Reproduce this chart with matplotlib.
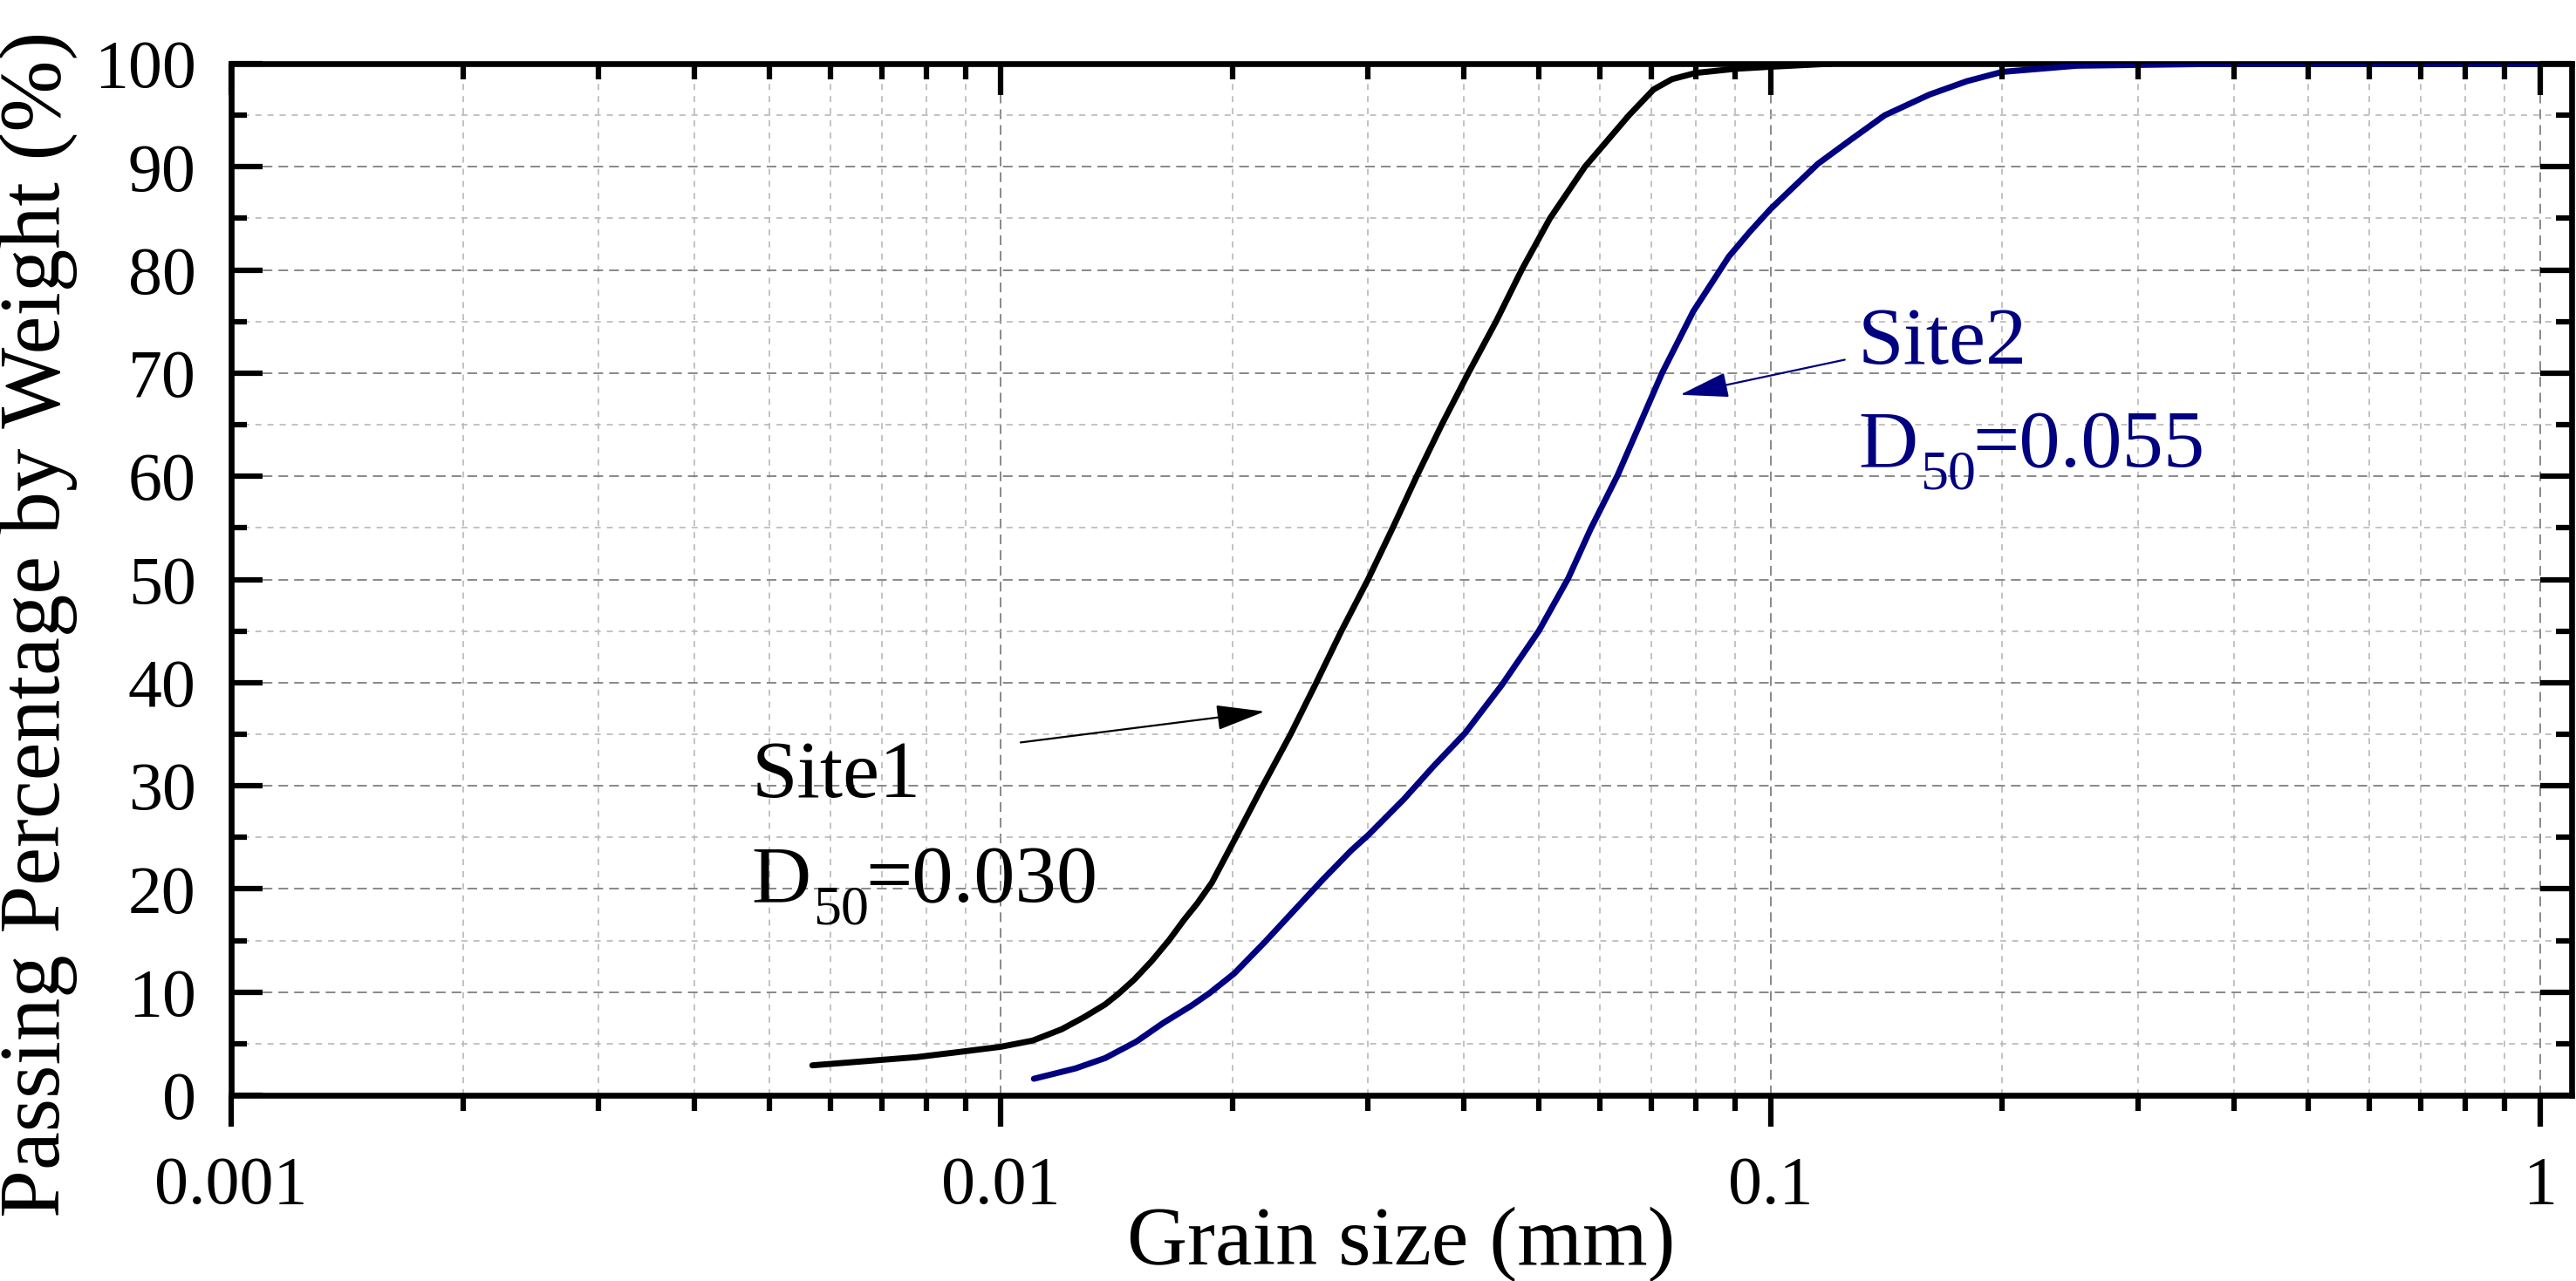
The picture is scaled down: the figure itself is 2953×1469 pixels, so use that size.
import matplotlib

matplotlib.use("Agg")

import matplotlib.pyplot as plt
from matplotlib.ticker import FuncFormatter, LogLocator, MultipleLocator, NullFormatter
from matplotlib.transforms import offset_copy
import numpy as np

# grain size distribution curves
site1_size = [0.00569, 0.00778, 0.00884, 0.0100, 0.0110, 0.0120, 0.01285, 0.01366,
              0.0142, 0.0149, 0.0157, 0.01653, 0.0173, 0.0180, 0.0188, 0.0202,
              0.0219, 0.0238, 0.0257, 0.0277, 0.0300, 0.0323, 0.0347, 0.0374,
              0.0405, 0.0440, 0.0475, 0.0517, 0.0574, 0.0655, 0.0705, 0.0745,
              0.0800, 0.0900, 0.100, 0.120]
site1_pass = [2.9, 3.7, 4.2, 4.7, 5.3, 6.4, 7.6, 8.8,
              9.8, 11.2, 13.0, 15.0, 17.0, 18.6, 20.6, 25.0,
              30.0, 35.0, 40.0, 45.0, 50.0, 55.0, 60.0, 65.0,
              70.0, 75.0, 80.0, 85.0, 90.0, 95.0, 97.5, 98.5,
              99.1, 99.5, 99.7, 100.0]

site2_size = [0.01104, 0.01250, 0.01366, 0.0150, 0.01625, 0.0177, 0.01867, 0.0201,
              0.0220, 0.02404, 0.0262, 0.0285, 0.0300, 0.0334, 0.0365, 0.0401,
              0.0448, 0.0500, 0.0546, 0.0584, 0.0633, 0.0677, 0.0723, 0.0794,
              0.0883, 0.0940, 0.100, 0.107, 0.1153, 0.127, 0.1408, 0.1609,
              0.180, 0.200, 0.250, 0.400, 1.0]
site2_pass = [1.6, 2.6, 3.6, 5.2, 7.0, 8.7, 9.9, 11.8,
              14.8, 17.9, 20.9, 23.7, 25.2, 28.7, 31.9, 35.1,
              39.8, 45.0, 50.1, 54.9, 60.1, 65.1, 70.0, 76.0,
              81.3, 83.7, 85.9, 88.0, 90.3, 92.6, 95.0, 97.0,
              98.3, 99.2, 99.8, 100.0, 100.0]

# annotation anchors: (text x, "SiteN" baseline, "D50" baseline, name, D50 value)
site1_label = (0.00474, 28.9, 18.7, "Site1", "0.030")
site1_arrow = ((0.01061, 34.2), (0.02203, 37.2))
site2_label = (0.130, 70.9, 60.9, "Site2", "0.055")
site2_arrow = ((0.1249, 71.3), (0.0763, 67.9))

NAVY = "#000080"

plt.rcParams["font.family"] = ["Liberation Serif", "DejaVu Serif"]
plt.rcParams["lines.scale_dashes"] = False

W, H = 2953, 1469
fig = plt.figure(figsize=(W / 100, H / 100), dpi=100)
ax = fig.add_axes([265 / W, 1 - 1256 / H, 2683 / W, 1183 / H])

ax.plot(site1_size, site1_pass, color="black", lw=5.0, solid_capstyle="round",
        solid_joinstyle="round", zorder=3)
ax.plot(site2_size, site2_pass, color=NAVY, lw=5.0, solid_capstyle="round",
        solid_joinstyle="round", zorder=3)

ax.set_xscale("log")
ax.set_xlim(0.001, 1.099)
ax.set_ylim(0, 100)

ax.xaxis.set_major_locator(LogLocator(base=10, numticks=10))
ax.xaxis.set_minor_locator(LogLocator(base=10, subs=np.arange(2, 10), numticks=30))
ax.xaxis.set_major_formatter(FuncFormatter(lambda v, p: f"{v:g}"))
ax.xaxis.set_minor_formatter(NullFormatter())
ax.yaxis.set_major_locator(MultipleLocator(10))
ax.yaxis.set_minor_locator(MultipleLocator(5))

ax.grid(which="major", color="#7f7f7f", ls=(0, (8, 5)), lw=1.3)
ax.grid(which="minor", color="#b8b8b8", ls=(0, (5, 5)), lw=1.2)

for sp in ax.spines.values():
    sp.set_linewidth(4.8)

tick_font = 56
ax.tick_params(axis="x", which="major", direction="out", length=26, width=4.5,
               pad=24, labelsize=tick_font)
ax.tick_params(axis="x", which="minor", direction="out", length=13, width=4.5)
ax.tick_params(axis="y", which="major", direction="in", length=26, width=4.5,
               pad=29, labelsize=tick_font, right=True)
ax.tick_params(axis="y", which="minor", direction="in", length=13, width=4.5, right=True)

# top axis: inward ticks, no labels
ax_top = ax.twiny()
ax_top.set_xscale("log")
ax_top.set_xlim(ax.get_xlim())
ax_top.xaxis.set_major_locator(LogLocator(base=10, numticks=10))
ax_top.xaxis.set_minor_locator(LogLocator(base=10, subs=np.arange(2, 10), numticks=30))
ax_top.xaxis.set_major_formatter(NullFormatter())
ax_top.xaxis.set_minor_formatter(NullFormatter())
ax_top.tick_params(axis="x", which="major", direction="in", length=26, width=4.5)
ax_top.tick_params(axis="x", which="minor", direction="in", length=13, width=4.5)
for sp in ax_top.spines.values():
    sp.set_visible(False)

fig.text(1606 / W, 1 - 1450 / H, "Grain size (mm)", fontsize=69,
         ha="center", va="baseline")
fig.text(44 / W, 1 - 716 / H, "Passing Percentage by Weight (%)", fontsize=71,
         rotation=90, ha="center", va="center")


def _label(spec, arrow, color):
    x, y1, y2, name, d50 = spec
    kw = dict(color=color, ha="left", va="baseline", zorder=4)
    ax.text(x, y1, name, fontsize=68, **kw)
    # D, lowered "50" subscript, then "=value"
    ax.text(x, y2, "D", fontsize=68, **kw)
    ax.text(x, y2, "50", fontsize=46,
            transform=offset_copy(ax.transData, fig=fig, x=71, y=-25, units="dots"), **kw)
    ax.text(x, y2, "=" + d50, fontsize=68,
            transform=offset_copy(ax.transData, fig=fig, x=131, y=0, units="dots"), **kw)
    tail, tip = arrow
    ax.annotate("", xy=tip, xytext=tail,
                arrowprops=dict(arrowstyle="-|>,head_length=0.7,head_width=0.18",
                                color=color, lw=1.6, shrinkA=0, shrinkB=0,
                                mutation_scale=50),
                zorder=4)


_label(site1_label, site1_arrow, "black")
_label(site2_label, site2_arrow, NAVY)

fig.savefig("out.png", dpi=100)
